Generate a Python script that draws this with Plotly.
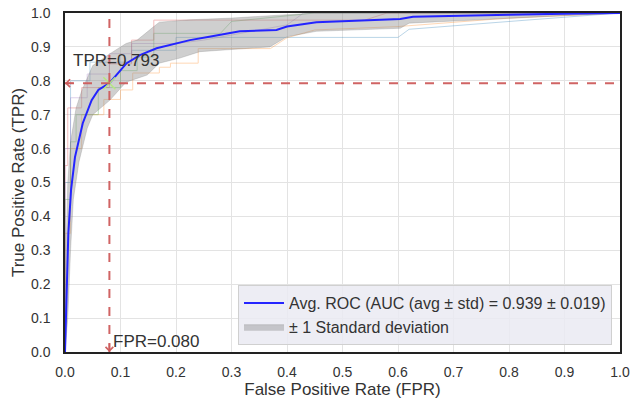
import plotly.graph_objects as go

# ---- data ----
mean_fpr = [0, 0.003, 0.006, 0.011, 0.018, 0.032, 0.048, 0.06, 0.08, 0.111, 0.135, 0.165,
            0.207, 0.225, 0.26, 0.315, 0.381, 0.40, 0.453, 0.495, 0.604, 0.627, 0.7, 0.8, 0.9, 1.0]
mean_tpr = [0, 0.20, 0.35, 0.48, 0.575, 0.675, 0.743, 0.773, 0.793, 0.852, 0.876, 0.896,
            0.913, 0.92, 0.93, 0.946, 0.950, 0.960, 0.973, 0.976, 0.982, 0.989, 0.992, 0.995, 0.998, 1.0]

upper_fpr = [0, 0.002, 0.005, 0.01, 0.02, 0.03, 0.05, 0.081, 0.11, 0.13, 0.16, 0.17, 0.225,
             0.30, 0.40, 0.45, 1.0]
upper_tpr = [0, 0.30, 0.50, 0.62, 0.72, 0.77, 0.845, 0.88, 0.91, 0.92, 0.96, 0.973, 0.98,
             0.985, 0.995, 1.0, 1.0]
lower_fpr = [0, 0.005, 0.01, 0.015, 0.025, 0.04, 0.05, 0.081, 0.11, 0.148, 0.17, 0.207, 0.243,
             0.369, 0.40, 0.453, 0.495, 0.604, 0.62, 0.8, 1.0]
lower_tpr = [0, 0.10, 0.30, 0.45, 0.56, 0.66, 0.70, 0.743, 0.796, 0.817, 0.852, 0.867, 0.886,
             0.90, 0.93, 0.946, 0.95, 0.955, 0.97, 0.985, 1.0]

fold1_fpr = [0, 0, 0.01, 0.01, 0.045, 0.045, 0.12, 0.12, 0.2, 0.2, 0.6, 0.62, 0.8, 1.0]
fold1_tpr = [0, 0.50, 0.50, 0.80, 0.80, 0.855, 0.855, 0.89, 0.89, 0.928, 0.928, 0.952, 0.975, 1.0]
fold2_fpr = [0, 0, 0.01, 0.01, 0.03, 0.03, 0.07, 0.07, 0.10, 0.10, 0.122, 0.122, 0.17, 0.17,
             0.19, 0.19, 0.24, 0.24, 0.37, 0.40, 0.45, 0.6, 0.8, 1.0]
fold2_tpr = [0, 0.35, 0.35, 0.60, 0.60, 0.70, 0.70, 0.745, 0.745, 0.773, 0.773, 0.823, 0.823, 0.84,
             0.84, 0.852, 0.852, 0.895, 0.895, 0.927, 0.95, 0.96, 0.985, 1.0]
fold3_fpr = [0, 0, 0.01, 0.01, 0.02, 0.02, 0.06, 0.06, 0.10, 0.10, 0.13, 0.13, 0.16, 0.16,
             0.28, 0.30, 0.45, 1.0]
fold3_tpr = [0, 0.45, 0.45, 0.62, 0.62, 0.70, 0.70, 0.78, 0.78, 0.83, 0.83, 0.87, 0.87, 0.94,
             0.94, 0.975, 1.0, 1.0]
fold4_fpr = [0, 0, 0.005, 0.005, 0.03, 0.03, 0.08, 0.08, 0.12, 0.12, 0.16, 0.16, 0.54, 0.58, 1.0]
fold4_tpr = [0, 0.55, 0.55, 0.72, 0.72, 0.78, 0.78, 0.85, 0.85, 0.92, 0.92, 0.979, 0.979, 1.0, 1.0]
fold5_fpr = [0, 0, 0.01, 0.01, 0.04, 0.04, 0.08, 0.08, 0.12, 0.12, 0.2, 0.25, 0.40, 0.43, 1.0]
fold5_tpr = [0, 0.60, 0.60, 0.75, 0.75, 0.82, 0.82, 0.88, 0.88, 0.91, 0.91, 0.92, 0.965, 1.0, 1.0]

opt_fpr = 0.080
opt_tpr = 0.793
auc_mean = 0.939
auc_std = 0.019

tick_vals = [0.0, 0.1, 0.2, 0.3, 0.4, 0.5, 0.6, 0.7, 0.8, 0.9, 1.0]
tick_text = ["0.0", "0.1", "0.2", "0.3", "0.4", "0.5", "0.6", "0.7", "0.8", "0.9", "1.0"]

folds = [(fold1_fpr, fold1_tpr, "#1f77b4"), (fold2_fpr, fold2_tpr, "#ff7f0e"),
         (fold3_fpr, fold3_tpr, "#2ca02c"), (fold4_fpr, fold4_tpr, "#d62728"),
         (fold5_fpr, fold5_tpr, "#9467bd")]

FONT = "Liberation Sans, Arial, sans-serif"
RED = "rgba(205,92,92,0.95)"
TXT = "#333333"

fig = go.Figure()

for fx, fy, c in folds:
    fig.add_trace(go.Scatter(x=fx, y=fy, mode="lines", line=dict(color=c, width=1),
                             opacity=0.3, showlegend=False, hoverinfo="skip"))

mean_trace = go.Scatter(x=mean_fpr, y=mean_tpr, mode="lines",
                        line=dict(color="#2424ff", width=2),
                        name=f"Avg. ROC (AUC (avg \u00b1 std) = {auc_mean:.3f} \u00b1 {auc_std:.3f})",
                        legendrank=1)
band_trace = go.Scatter(x=upper_fpr + lower_fpr[::-1], y=upper_tpr + lower_tpr[::-1],
                        mode="lines", fill="toself", fillcolor="rgba(140,140,140,0.42)",
                        line=dict(color="rgba(120,120,120,0.5)", width=0.5),
                        name="\u00b1 1 Standard deviation", legendrank=2)
fig.add_trace(band_trace)
fig.add_trace(mean_trace)

# optimal point marker
fig.add_trace(go.Scatter(x=[opt_fpr], y=[opt_tpr], mode="markers",
                         marker=dict(symbol="x-thin-open", size=12,
                                     line=dict(color=RED, width=1.5)),
                         showlegend=False, hoverinfo="skip"))

fig.add_shape(type="line", x0=0, x1=1, y0=opt_tpr, y1=opt_tpr,
              line=dict(color=RED, width=2, dash="dash"))
fig.add_shape(type="line", x0=opt_fpr, x1=opt_fpr, y0=0, y1=1,
              line=dict(color=RED, width=2, dash="dash"))

fig.add_annotation(x=0, y=opt_tpr, ax=10, ay=0, showarrow=True, arrowhead=4,
                   arrowsize=1, arrowwidth=1.5, arrowcolor=RED, text="")
fig.add_annotation(x=opt_fpr, y=0, ax=0, ay=-10, showarrow=True, arrowhead=4,
                   arrowsize=1, arrowwidth=1.5, arrowcolor=RED, text="")

fig.add_annotation(x=0.010, y=0.861, text=f"TPR={opt_tpr:.3f}", showarrow=False,
                   xanchor="left", yanchor="middle", font=dict(size=17, color=TXT, family=FONT))
fig.add_annotation(x=opt_fpr + 0.002, y=0.032, text=f"FPR={opt_fpr:.3f}", showarrow=False,
                   xanchor="left", yanchor="middle", font=dict(size=17, color=TXT, family=FONT))

axis_common = dict(range=[0, 1], tickvals=tick_vals, ticktext=tick_text, automargin=False,
                   showgrid=True, gridcolor="#e3e3e3", gridwidth=1, zeroline=False,
                   showline=True, mirror=True, linecolor="#222222", linewidth=1.5,
                   ticks="outside", tickcolor="rgba(0,0,0,0)",
                   tickfont=dict(size=14, color=TXT, family=FONT))

fig.update_xaxes(**axis_common, ticklen=6,
                 title=dict(text="False Positive Rate (FPR)", standoff=3,
                            font=dict(size=17, color=TXT, family=FONT)))
fig.update_yaxes(**axis_common, ticklen=10,
                 title=dict(text="True Positive Rate (TPR)", standoff=2,
                            font=dict(size=17, color=TXT, family=FONT)))

fig.update_layout(
    width=630, height=401,
    margin=dict(l=65, r=10, t=13, b=49),
    plot_bgcolor="white", paper_bgcolor="white",
    font=dict(family=FONT, size=14, color=TXT),
    legend=dict(x=0.9856, y=0.0206, xanchor="right", yanchor="bottom",
                bgcolor="rgba(234,234,242,0.85)", bordercolor="#d0d0d0", borderwidth=1,
                font=dict(size=16, color=TXT, family=FONT),
                itemwidth=40, tracegroupgap=4),
)

fig.write_html("out.html", config={"displayModeBar": False},
               post_script="document.body.style.margin='0px';")
